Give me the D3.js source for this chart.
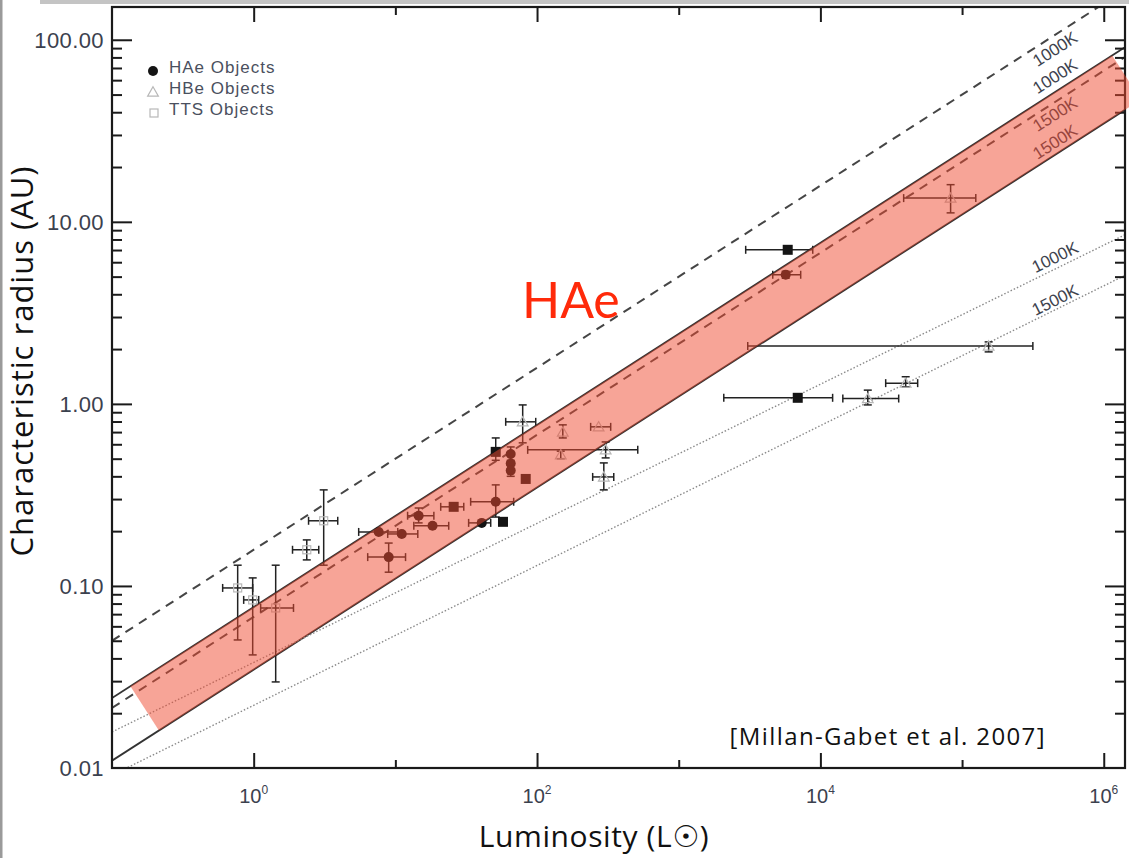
<!DOCTYPE html>
<html>
<head>
<meta charset="utf-8">
<script src="https://cdn.jsdelivr.net/npm/d3@7"></script>
<style>
  html, body { margin: 0; padding: 0; background: #fff; }
  svg { display: block; }
</style>
</head>
<body>
<svg id="chart" width="1129" height="858"></svg>
<script>
// ---- axis ticks ----
const xDecades = [1e-1, 1e0, 1e1, 1e2, 1e3, 1e4, 1e5, 1e6];
const xLabelled = [1e0, 1e2, 1e4, 1e6];
const xLabelExp = ['0', '2', '4', '6'];
const yDecades = [0.01, 0.1, 1, 10, 100];
const yTickLabels = ['0.01', '0.10', '1.00', '10.00', '100.00'];

// ---- model lines, R = coef * L^exp ----
const lineNames = ['1000K', '1000K', '1500K', '1500K', '1000K', '1500K'];
const lineCoef = [0.158, 0.0766, 0.0676, 0.0347, 0.038, 0.0221];
const lineExp = [0.5, 0.5, 0.5, 0.5, 0.382, 0.384];
const lineStyle = ['dashed', 'solid', 'dashed', 'solid', 'dotted', 'dotted'];
const lineLabelDy = [14, -16, 12, -13, -12, -10];

// highlighted HAe band (between the two solid lines)
const bandLum = [10 ** -0.87, 10 ** 6.06];

// ---- HAe objects (filled circles) ----
const haeLum = [7.63, 8.97, 11.1, 14.6, 18.3, 40.7, 51.1, 65.2, 65.2, 65.2, 5690];
const haeRad = [0.198, 0.144, 0.193, 0.243, 0.214, 0.222, 0.290, 0.53, 0.47, 0.43, 5.12];
const haeLumErr = [[5.51, 10.4], [6.38, 11.8], [8.83, 14.4], [12.2, 18.7], [13.5, 23.8], [32.9, 47.1], [34.0, 68.4], null, null, null, [4610, 7260]];
const haeRadErr = [null, [0.119, 0.172], null, [0.222, 0.268], null, null, [0.239, 0.359], [0.49, 0.58], null, [0.40, 0.46], [4.9, 5.35]];

// ---- filled squares ----
const sqLum = [57.5, 83.2, 51.1, 5880, 25.8, 6920];
const sqRad = [0.225, 0.387, 0.545, 7.02, 0.272, 1.08];
const sqLumErr = [null, null, null, [2970, 8830], [20.9, 30.4], [2080, 12200]];
const sqRadErr = [null, null, [0.49, 0.65], null, null, null];

// ---- HBe objects (open triangles) ----
const hbeLum = [79.2, 152, 147, 305, 272, 296, 154000, 40000, 21600, 83000];
const hbeRad = [0.797, 0.70, 0.525, 0.559, 0.748, 0.397, 2.08, 1.30, 1.07, 13.5];
const hbeLumErr = [[60.1, 97.9], null, null, [85.9, 514], [239, 331], [247, 348], [3070, 316000], [28900, 48600], [14400, 35700], [38700, 125000]];
const hbeRadErr = [[0.611, 0.987], [0.65, 0.767], [0.50, 0.55], [0.505, 0.618], null, [0.337, 0.474], [1.93, 2.19], [1.24, 1.41], [0.987, 1.19], [11.2, 16.0]];

// ---- TTS objects (open squares) ----
const ttsLum = [0.771, 0.984, 1.43, 2.37, 3.12];
const ttsRad = [0.0975, 0.0838, 0.0757, 0.158, 0.228];
const ttsLumErr = [[0.604, 0.984], [0.85, 1.085], [1.12, 1.91], [1.88, 2.88], [2.44, 3.92]];
const ttsRadErr = [[0.0505, 0.130], [0.0418, 0.1107], [0.0297, 0.130], [0.139, 0.179], [0.130, 0.337]];

const legendNames = ['HAe Objects', 'HBe Objects', 'TTS Objects'];

// ------------------------------------------------------------
const svg = d3.select('#chart');
const plot = { left: 112, right: 1125, top: 7, bottom: 768 };

const x = d3.scaleLog().domain([1e-1, 10 ** 6.15]).range([plot.left, plot.right]);
const y = d3.scaleLog().domain([1e-2, 10 ** 2.18]).range([plot.bottom, plot.top]);

const tickFont = '"Liberation Sans", Arial, Helvetica, sans-serif';
const textFont = '"Open Sans", "DejaVu Sans", sans-serif';

// window border leftovers of the screenshot
svg.append('rect').attr('x', 40).attr('y', 0).attr('width', 1089).attr('height', 4).attr('fill', '#c4c4c4');
svg.append('rect').attr('x', 0).attr('y', 0).attr('width', 2.5).attr('height', 858).attr('fill', '#9a9a9a');

svg.append('clipPath').attr('id', 'plot-clip')
    .append('rect')
    .attr('x', plot.left).attr('y', plot.top)
    .attr('width', plot.right - plot.left).attr('height', plot.bottom - plot.top);

const modelR = (i, L) => lineCoef[i] * Math.pow(L, lineExp[i]);

// model lines
const lineGen = d3.line().x(d => x(d[0])).y(d => y(d[1]));
const linesG = svg.append('g').attr('clip-path', 'url(#plot-clip)');
lineNames.forEach((name, i) => {
    const pts = x.domain().map(L => [L, modelR(i, L)]);
    const path = linesG.append('path')
        .attr('d', lineGen(pts))
        .attr('fill', 'none');
    if (lineStyle[i] === 'dashed') {
        path.attr('stroke', '#454545').attr('stroke-width', 2).attr('stroke-dasharray', '9,7');
    } else if (lineStyle[i] === 'dotted') {
        path.attr('stroke', '#8a8a8a').attr('stroke-width', 1.4).attr('stroke-dasharray', '1.5,2');
    } else {
        path.attr('stroke', '#333').attr('stroke-width', 1.9);
    }
});

// line labels, rotated along each line
const labelLum = x.invert(1055);
lineNames.forEach((name, i) => {
    const L1 = labelLum / 10, L2 = labelLum * 10;
    const ang = Math.atan2(y(modelR(i, L2)) - y(modelR(i, L1)), x(L2) - x(L1)) * 180 / Math.PI;
    const px = x(labelLum), py = y(modelR(i, labelLum)) + lineLabelDy[i];
    svg.append('text')
        .attr('transform', `translate(${px},${py}) rotate(${ang})`)
        .attr('text-anchor', 'middle')
        .attr('dy', '0.35em')
        .attr('font-family', tickFont)
        .attr('font-size', 17)
        .attr('fill', '#3e434e')
        .text(name);
});

// data groups
const groups = [
    { lum: ttsLum, rad: ttsRad, lumErr: ttsLumErr, radErr: ttsRadErr, symbol: 'openSquare' },
    { lum: hbeLum, rad: hbeRad, lumErr: hbeLumErr, radErr: hbeRadErr, symbol: 'openTriangle' },
    { lum: sqLum, rad: sqRad, lumErr: sqLumErr, radErr: sqRadErr, symbol: 'square' },
    { lum: haeLum, rad: haeRad, lumErr: haeLumErr, radErr: haeRadErr, symbol: 'circle' }
];

const errG = svg.append('g').attr('stroke', '#222').attr('stroke-width', 1.5);
const markG = svg.append('g');
const cap = 4;

function drawMarker(g, symbol, cx, cy) {
    if (symbol === 'circle') {
        g.append('circle').attr('cx', cx).attr('cy', cy).attr('r', 5).attr('fill', '#141414');
    } else if (symbol === 'square') {
        g.append('rect').attr('x', cx - 5).attr('y', cy - 5).attr('width', 10).attr('height', 10).attr('fill', '#141414');
    } else if (symbol === 'openSquare') {
        g.append('rect').attr('x', cx - 4).attr('y', cy - 4).attr('width', 8).attr('height', 8)
            .attr('fill', 'none').attr('stroke', '#b8b8b8').attr('stroke-width', 1.2);
    } else {
        g.append('path').attr('d', d3.symbol(d3.symbolTriangle, 50)())
            .attr('transform', `translate(${cx},${cy + 1})`)
            .attr('fill', 'none').attr('stroke', '#b8b8b8').attr('stroke-width', 1.2);
    }
}

groups.forEach(grp => {
    grp.lum.forEach((L, i) => {
        const cx = x(L), cy = y(grp.rad[i]);
        const le = grp.lumErr[i], re = grp.radErr[i];
        if (le) {
            const x0 = x(le[0]), x1 = x(le[1]);
            errG.append('line').attr('x1', x0).attr('x2', x1).attr('y1', cy).attr('y2', cy);
            errG.append('line').attr('x1', x0).attr('x2', x0).attr('y1', cy - cap).attr('y2', cy + cap);
            errG.append('line').attr('x1', x1).attr('x2', x1).attr('y1', cy - cap).attr('y2', cy + cap);
        }
        if (re) {
            const y0 = y(re[0]), y1 = y(re[1]);
            errG.append('line').attr('x1', cx).attr('x2', cx).attr('y1', y0).attr('y2', y1);
            errG.append('line').attr('x1', cx - cap).attr('x2', cx + cap).attr('y1', y0).attr('y2', y0);
            errG.append('line').attr('x1', cx - cap).attr('x2', cx + cap).attr('y1', y1).attr('y2', y1);
        }
        drawMarker(markG, grp.symbol, cx, cy);
    });
});

// ---- axes (ticks on all four sides, pointing inward) ----
const yMinor = [];
yDecades.forEach(d => { for (let k = 2; k <= 9; k++) if (d * k <= y.domain()[1]) yMinor.push(d * k); });
const xMajor = xLabelled;
const xMinor = xDecades.filter(d => !xLabelled.includes(d) && d > x.domain()[0]);

function tickSet(axis, transform, values, size) {
    svg.append('g')
        .attr('transform', transform)
        .call(axis.tickValues(values).tickSize(size).tickSizeOuter(0).tickFormat(''))
        .call(g => g.select('.domain').remove())
        .call(g => g.selectAll('line').attr('stroke', '#1a1a1a').attr('stroke-width', 2));
}
tickSet(d3.axisLeft(y), `translate(${plot.left},0)`, yDecades.filter(d => d > 0.01), -20);
tickSet(d3.axisLeft(y), `translate(${plot.left},0)`, yMinor, -10);
tickSet(d3.axisRight(y), `translate(${plot.right},0)`, yDecades.filter(d => d > 0.01), -20);
tickSet(d3.axisRight(y), `translate(${plot.right},0)`, yMinor, -10);
tickSet(d3.axisBottom(x), `translate(0,${plot.bottom})`, xMajor, -15);
tickSet(d3.axisBottom(x), `translate(0,${plot.bottom})`, xMinor, -8);
tickSet(d3.axisTop(x), `translate(0,${plot.top})`, xMajor, -15);
tickSet(d3.axisTop(x), `translate(0,${plot.top})`, xMinor, -8);

svg.append('rect')
    .attr('x', plot.left).attr('y', plot.top)
    .attr('width', plot.right - plot.left).attr('height', plot.bottom - plot.top)
    .attr('fill', 'none').attr('stroke', '#1a1a1a').attr('stroke-width', 2.2);

// y tick labels
svg.append('g').selectAll('text')
    .data(yDecades)
    .join('text')
    .attr('x', plot.left - 8)
    .attr('y', d => y(d))
    .attr('dy', '0.36em')
    .attr('text-anchor', 'end')
    .attr('font-family', tickFont)
    .attr('font-size', 22)
    .attr('letter-spacing', 0.4)
    .attr('fill', '#3b414e')
    .text((d, i) => yTickLabels[i]);

// x tick labels 10^n
const xl = svg.append('g').selectAll('text')
    .data(xLabelled)
    .join('text')
    .attr('x', d => x(d))
    .attr('y', 803)
    .attr('text-anchor', 'middle')
    .attr('font-family', tickFont)
    .attr('font-size', 20)
    .attr('fill', '#3b414e');
xl.append('tspan').text('10');
xl.append('tspan').attr('dy', -9).attr('font-size', 12).text((d, i) => xLabelExp[i]);

// legend
const legendY = [71, 92, 113];
const lg = svg.append('g');
drawMarker(lg, 'circle', 153, legendY[0]);
drawMarker(lg, 'openTriangle', 153, legendY[1]);
drawMarker(lg, 'openSquare', 154, legendY[2]);
lg.selectAll('text')
    .data(legendNames)
    .join('text')
    .attr('x', 169)
    .attr('y', (d, i) => legendY[i] + 2)
    .attr('font-family', tickFont)
    .attr('font-size', 17)
    .attr('letter-spacing', 1)
    .attr('fill', '#4a505e')
    .text(d => d);

// highlighted band drawn over lines and points
const bandPts = bandLum.map(L => {
    const px = x(L), pyU = y(modelR(1, L)), pyL = y(modelR(3, L));
    const s = (y(modelR(1, L / 10)) - y(modelR(1, L * 10))) / (x(L * 10) - x(L / 10));
    const k = (pyL - pyU) / (1 + s * s);
    return { up: [px, pyU], low: [px + k * s, pyU + k] };
});
svg.append('path')
    .attr('d', d3.line()([bandPts[0].up, bandPts[1].up, bandPts[1].low, bandPts[0].low]) + 'Z')
    .attr('fill', '#f04a30')
    .attr('fill-opacity', 0.5);

// annotations
svg.append('text')
    .attr('x', 522).attr('y', 318)
    .attr('font-family', 'Lato, "Open Sans", sans-serif')
    .attr('font-size', 50)
    .attr('fill', '#ff2a0a')
    .text('HAe');

svg.append('text')
    .attr('x', 1046).attr('y', 745)
    .attr('text-anchor', 'end')
    .attr('font-family', textFont)
    .attr('font-size', 24)
    .attr('letter-spacing', 1.4)
    .attr('fill', '#111')
    .text('[Millan-Gabet et al. 2007]');

// axis titles
svg.append('text')
    .attr('x', 594).attr('y', 847)
    .attr('text-anchor', 'middle')
    .attr('font-family', textFont)
    .attr('font-size', 30)
    .attr('letter-spacing', 0.6)
    .attr('fill', '#111')
    .text('Luminosity (L☉)');

svg.append('text')
    .attr('transform', 'translate(33,361) rotate(-90)')
    .attr('text-anchor', 'middle')
    .attr('font-family', textFont)
    .attr('font-size', 31)
    .attr('letter-spacing', 1)
    .attr('fill', '#111')
    .text('Characteristic radius (AU)');
</script>
</body>
</html>
